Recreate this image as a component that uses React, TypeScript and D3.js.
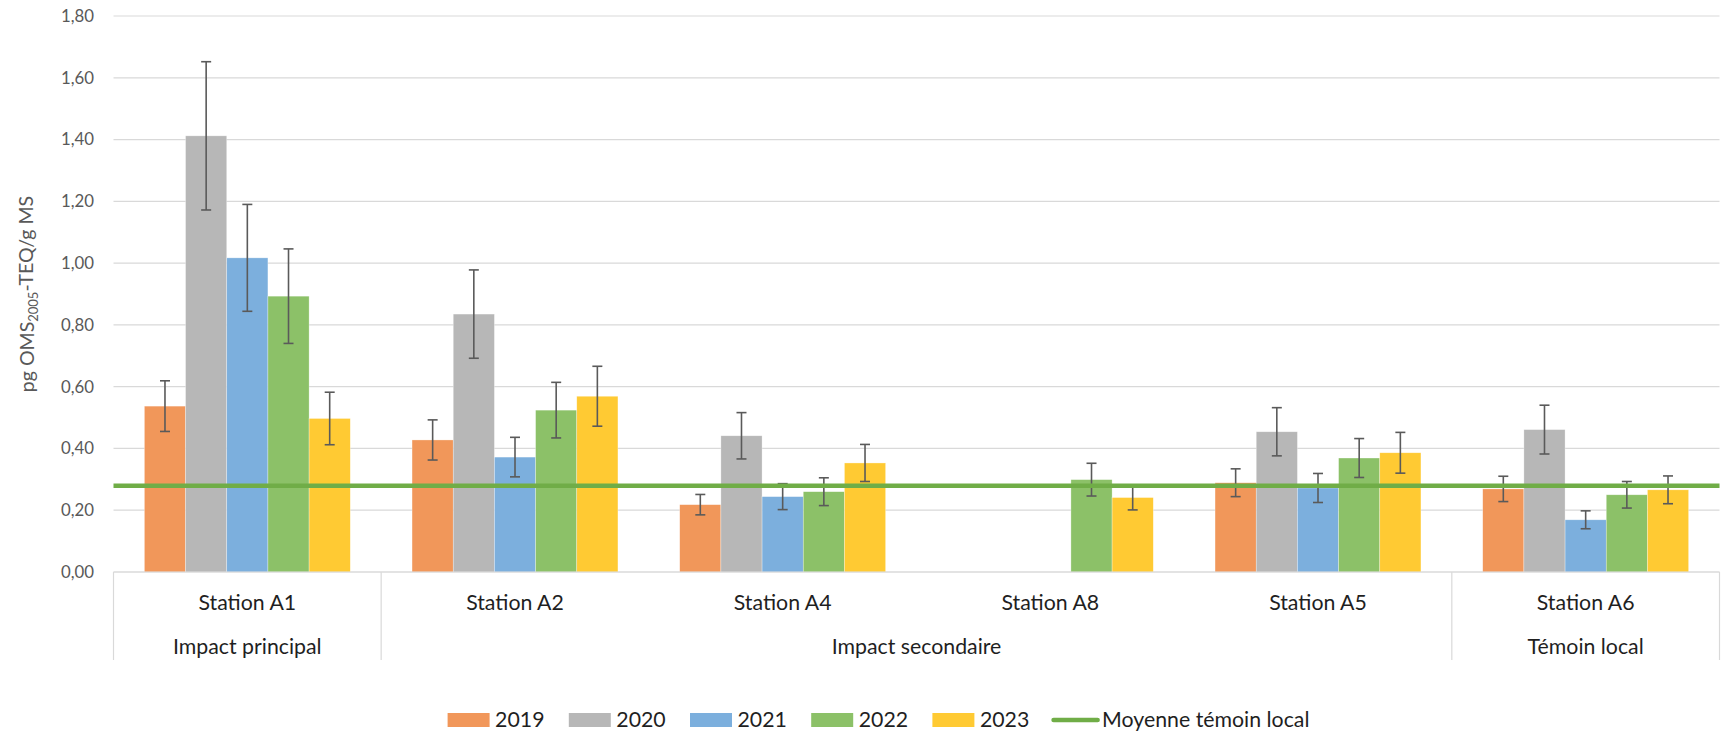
import React from "react";
import * as d3 from "d3";

const stations = ["Station A1", "Station A2", "Station A4", "Station A8", "Station A5", "Station A6"];
const groups = [
  { label: "Impact principal", from: 0, to: 0 },
  { label: "Impact secondaire", from: 1, to: 4 },
  { label: "Témoin local", from: 5, to: 5 },
];
const years = ["2019", "2020", "2021", "2022", "2023"];
const colors = ["#F1975A", "#B7B7B7", "#7CAFDD", "#8CC168", "#FFCA33"];

const v2019 = [0.537, 0.4275, 0.218, null, 0.289, 0.269];
const v2020 = [1.412, 0.835, 0.441, null, 0.454, 0.461];
const v2021 = [1.017, 0.372, 0.244, null, 0.272, 0.169];
const v2022 = [0.893, 0.524, 0.26, 0.299, 0.369, 0.25];
const v2023 = [0.497, 0.569, 0.353, 0.241, 0.386, 0.266];

const e2019 = [0.082, 0.065, 0.033, null, 0.045, 0.041];
const e2020 = [0.24, 0.143, 0.075, null, 0.078, 0.079];
const e2021 = [0.173, 0.064, 0.042, null, 0.047, 0.029];
const e2022 = [0.153, 0.09, 0.045, 0.053, 0.063, 0.043];
const e2023 = [0.085, 0.097, 0.06, 0.04, 0.066, 0.045];

const meanTemoin = 0.279;
const yTicks = [0, 0.2, 0.4, 0.6, 0.8, 1.0, 1.2, 1.4, 1.6, 1.8];

const values = [v2019, v2020, v2021, v2022, v2023];
const errors = [e2019, e2020, e2021, e2022, e2023];

const W = 1724;
const H = 732;
const left = 113.5;
const right = 1719.5;
const top = 16;
const bottom = 572;

export default function App() {
  const x0 = d3.scaleBand<string>().domain(stations).range([left, right]).paddingInner(0).paddingOuter(0);
  const x1 = d3
    .scaleBand<string>()
    .domain(years)
    .range([0, x0.bandwidth()])
    .paddingInner(0)
    .paddingOuter(0.75);
  const y = d3.scaleLinear().domain([0, 1.8]).range([bottom, top]);
  const fmt = (v: number) => d3.format(".2f")(v).replace(".", ",");
  const font = "Lato, 'Open Sans', sans-serif";
  const legendX0 = 447.6;
  const legendStep = 121.2;
  const legendY = 720;
  const labelSize = 21.3;

  return (
    <svg
      width={W}
      height={H}
      style={{ position: "absolute", left: 0, top: 0, background: "#fff" }}
      fontFamily={font}
    >
      {/* gridlines */}
      {yTicks.map((t) => (
        <line key={t} x1={left} x2={right} y1={y(t)} y2={y(t)} stroke="#D9D9D9" strokeWidth={1.2} />
      ))}
      {/* tick labels */}
      {yTicks.map((t) => (
        <text key={"l" + t} x={94} y={y(t)} dy="0.35em" textAnchor="end" fontSize={16.8} fill="#595959">
          {fmt(t)}
        </text>
      ))}
      {/* y title */}
      <text
        transform={`translate(27,${(top + bottom) / 2}) rotate(-90)`}
        textAnchor="middle"
        dy="0.35em"
        fontSize={19.5}
        fill="#595959"
      >
        <tspan>pg OMS</tspan>
        <tspan fontSize={13} dy="0.35em">2005</tspan>
        <tspan dy="-0.3em">-TEQ/g MS</tspan>
      </text>
      {/* bars */}
      {stations.map((s, i) => (
        <g key={s} transform={`translate(${x0(s)},0)`}>
          {years.map((yr, k) => {
            const v = values[k][i];
            if (v == null) return null;
            return (
              <rect
                key={yr}
                x={x1(yr)}
                y={y(v)}
                width={x1.bandwidth()}
                height={y(0) - y(v)}
                fill={colors[k]}
                stroke="#ffffff"
                strokeOpacity={0.5}
                strokeWidth={0.6}
              />
            );
          })}
        </g>
      ))}
      {/* error bars */}
      {stations.map((s, i) => (
        <g key={"e" + s} transform={`translate(${x0(s)},0)`}>
          {years.map((yr, k) => {
            const v = values[k][i];
            const e = errors[k][i];
            if (v == null || e == null) return null;
            const cx = (x1(yr) as number) + x1.bandwidth() / 2;
            return (
              <g key={yr} stroke="#5A5A5A" strokeWidth={1.6}>
                <line x1={cx} x2={cx} y1={y(v + e)} y2={y(v - e)} />
                <line x1={cx - 5} x2={cx + 5} y1={y(v + e)} y2={y(v + e)} />
                <line x1={cx - 5} x2={cx + 5} y1={y(v - e)} y2={y(v - e)} />
              </g>
            );
          })}
        </g>
      ))}
      {/* mean line */}
      <line x1={left} x2={right} y1={y(meanTemoin)} y2={y(meanTemoin)} stroke="#70AD47" strokeWidth={4.6} />
      {/* category axis */}
      <line x1={left} x2={right} y1={bottom} y2={bottom} stroke="#D9D9D9" strokeWidth={1.2} />
      {[0, 1, 5, 6].map((b) => {
        const xx = b < stations.length ? (x0(stations[b]) as number) : right;
        return <line key={"d" + b} x1={xx} x2={xx} y1={bottom} y2={660} stroke="#D9D9D9" strokeWidth={1.2} />;
      })}
      {stations.map((s) => (
        <text
          key={"t" + s}
          x={(x0(s) as number) + x0.bandwidth() / 2}
          y={603}
          dy="0.35em"
          textAnchor="middle"
          fontSize={labelSize}
          fill="#1F1F1F"
        >
          {s}
        </text>
      ))}
      {groups.map((g) => {
        const a = x0(stations[g.from]) as number;
        const b = (x0(stations[g.to]) as number) + x0.bandwidth();
        return (
          <text key={g.label} x={(a + b) / 2} y={647} dy="0.35em" textAnchor="middle" fontSize={labelSize} fill="#1F1F1F">
            {g.label}
          </text>
        );
      })}
      {/* legend */}
      {years.map((yr, k) => (
        <g key={"lg" + yr} transform={`translate(${legendX0 + k * legendStep},${legendY})`}>
          <rect x={0} y={-7} width={42} height={14} fill={colors[k]} />
          <text x={47.5} y={0} dy="0.35em" fontSize={labelSize} fill="#1F1F1F">
            {yr}
          </text>
        </g>
      ))}
      <g transform={`translate(${legendX0 + 5 * legendStep},${legendY})`}>
        <line x1={0} x2={44} y1={0} y2={0} stroke="#70AD47" strokeWidth={4.6} strokeLinecap="round" />
        <text x={48.5} y={0} dy="0.35em" fontSize={labelSize} fill="#1F1F1F">
          Moyenne témoin local
        </text>
      </g>
    </svg>
  );
}
